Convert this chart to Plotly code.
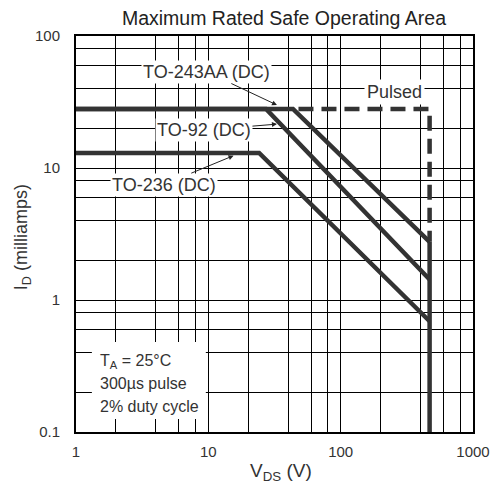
import numpy as np
import plotly.graph_objects as go

# Safe operating area limits: drain-source voltage (V) vs drain current (mA)
v_to236 = [1, 24.2, 470]
i_to236 = [13, 13, 0.69]
v_to92 = [1, 27.3, 470]
i_to92 = [28, 28, 1.43]
v_to243aa = [1, 43.6, 470]
i_to243aa = [28, 28, 2.76]
v_pulsed = [48, 470, 470]
i_pulsed = [28, 28, 2.76]
v_bv = [470, 470]
i_bv = [2.76, 0.1]

# Grid / tick positions
x_grid = [1, 2, 4, 6, 8, 10, 20, 40, 60, 80, 100, 200, 400, 600, 800, 1000]
x_labels = {1: "1", 10: "10", 100: "100", 1000: "1000"}
y_grid = [0.1, 0.2, 0.4, 0.6, 0.8, 1, 2, 4, 6, 8, 10, 20, 40, 60, 80, 100]
y_labels = {0.1: "0.1", 1: "1", 10: "10", 100: "100"}

FONT = "Liberation Sans, Arial, Helvetica, sans-serif"
LINE = "#333333"
TXT = "#333333"

fig = go.Figure()
solid = dict(color=LINE, width=4.5)
for v, i in [(v_to236, i_to236), (v_to92, i_to92), (v_to243aa, i_to243aa), (v_bv, i_bv)]:
    fig.add_trace(go.Scatter(x=v, y=i, mode="lines", line=solid, hoverinfo="skip"))
fig.add_trace(go.Scatter(x=v_pulsed, y=i_pulsed, mode="lines",
                         line=dict(color=LINE, width=4.5, dash="15px,8px"),
                         hoverinfo="skip"))

axis_common = dict(
    type="log", showgrid=True, gridcolor="#000", gridwidth=1.2,
    showline=True, linecolor="#000", linewidth=2, mirror=True,
    ticks="", zeroline=False, automargin=False,
    tickfont=dict(family=FONT, size=15, color=TXT),
)
fig.update_xaxes(range=[0, 3], tickvals=x_grid,
                 ticktext=[x_labels.get(v, "") for v in x_grid],
                 ticklabelstandoff=5, **axis_common)
fig.update_yaxes(range=[-1, 2], tickvals=y_grid,
                 ticktext=[y_labels.get(v, "") for v in y_grid],
                 ticklabelstandoff=11, **axis_common)

# White panel behind the test-condition note
fig.add_shape(type="rect", xref="paper", yref="paper",
              x0=0.040, x1=0.327, y0=0.033, y1=0.227,
              fillcolor="white", line=dict(width=0), layer="above")

note_font = dict(family=FONT, size=16, color=TXT)
for txt, yp in [("T<sub>A</sub> = 25°C", 0.178),
                ("300µs pulse", 0.122),
                ("2% duty cycle", 0.065)]:
    fig.add_annotation(text=txt, xref="paper", yref="paper", x=0.055, y=yp,
                       xanchor="left", yanchor="middle", showarrow=False,
                       font=note_font)

lab_font = dict(family=FONT, size=18, color=TXT)
arrow = dict(showarrow=True, arrowhead=2, arrowsize=1, arrowwidth=1,
             arrowcolor="#222", bgcolor="white", borderpad=1, font=lab_font)
fig.add_annotation(text="TO-243AA (DC)", x=np.log10(33), y=np.log10(30),
                   ax=-70, ay=-33, **arrow)
fig.add_annotation(text="TO-92 (DC)", x=np.log10(33), y=np.log10(21.5),
                   ax=-73, ay=6, **arrow)
fig.add_annotation(text="TO-236 (DC)", x=np.log10(15.5), y=np.log10(12.4),
                   ax=-70, ay=29, **arrow)
fig.add_annotation(text="Pulsed", x=2.403, y=1.576, showarrow=False,
                   bgcolor="white", borderpad=2, font=lab_font)

# Axis titles
fig.add_annotation(text="V<sub>DS</sub> (V)", xref="paper", yref="paper",
                   x=0.516, y=-0.101, xanchor="center", yanchor="middle",
                   showarrow=False, font=dict(family=FONT, size=19, color=TXT))
fig.add_annotation(text="I<sub>D</sub> (milliamps)", xref="paper", yref="paper",
                   x=-0.136, y=0.492, xanchor="center", yanchor="middle",
                   textangle=-90, showarrow=False,
                   font=dict(family=FONT, size=18, color=TXT))

fig.update_layout(
    width=493, height=489,
    margin=dict(l=76, r=20, t=36, b=57, autoexpand=False),
    paper_bgcolor="white", plot_bgcolor="white",
    showlegend=False,
    title=dict(text="Maximum Rated Safe Operating Area",
               x=0.576, y=1 - 18 / 489, xanchor="center", yanchor="middle",
               xref="container", yref="container",
               font=dict(family=FONT, size=19.5, color="#222")),
)

fig.write_html("out.html")
